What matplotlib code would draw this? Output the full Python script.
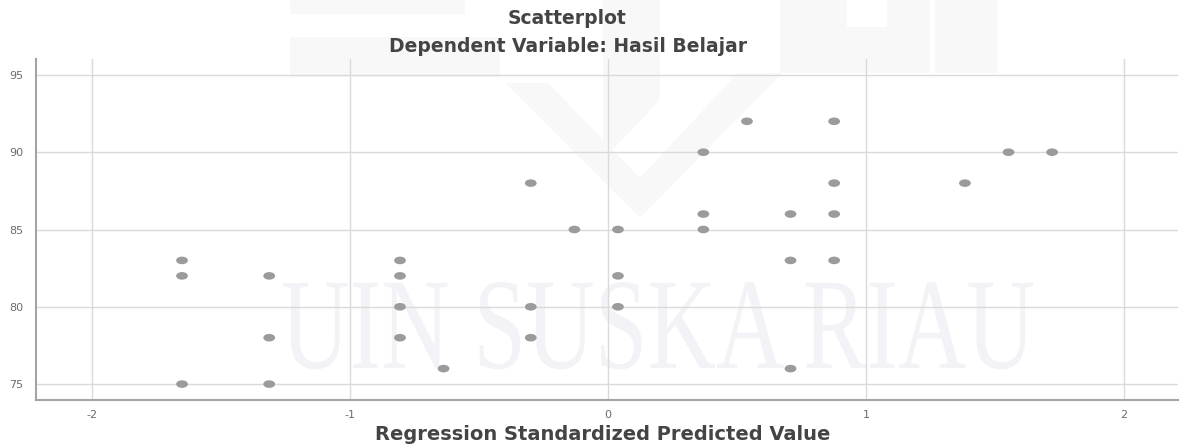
import matplotlib
matplotlib.use("Agg")
import matplotlib.pyplot as plt
from matplotlib.font_manager import FontProperties
from matplotlib.markers import MarkerStyle
from matplotlib.patches import PathPatch, Polygon
from matplotlib.path import Path
from matplotlib.textpath import TextPath
from matplotlib.transforms import Affine2D, IdentityTransform

plt.rcParams["axes.unicode_minus"] = False

# --- data ---
pred_std = [-1.651, -1.651, -1.651,
            -1.313, -1.313, -1.313,
            -0.806, -0.806, -0.806, -0.806,
            -0.637,
            -0.299, -0.299, -0.299,
            -0.130,
            0.039, 0.039, 0.039,
            0.370, 0.370, 0.370,
            0.539,
            0.708, 0.708, 0.708,
            0.877, 0.877, 0.877, 0.877,
            1.384, 1.553, 1.722]
hasil_belajar = [83, 82, 75,
                 82, 78, 75,
                 83, 82, 80, 78,
                 76,
                 88, 80, 78,
                 85,
                 85, 82, 80,
                 90, 86, 85,
                 92,
                 86, 83, 76,
                 92, 88, 86, 83,
                 88, 90, 90]
x_ticks = [-2, -1, 0, 1, 2]
y_ticks = [75, 80, 85, 90, 95]

W, H = 1187, 448
fig = plt.figure(figsize=(W / 100, H / 100), dpi=100)
ax = fig.add_axes([36 / W, 1 - 400 / H, 1142 / W, 341 / H])
ax.set_facecolor("none")


def px(points):
    # watermark shapes in pixel coords measured from the top-left
    return [(x, H - y) for x, y in points]


# --- very faint logo watermark (background decoration) ---
logo = "#f8f8f8"
shapes = [
    [(290, 0), (465, 0), (465, 14), (290, 14)],
    [(290, 37), (500, 37), (500, 77), (290, 77)],
    [(505, 83), (548, 83), (640, 178), (738, 73), (782, 73), (640, 218)],
    [(603, 0), (660, 0), (660, 100), (603, 160)],
    [(780, 0), (847, 0), (847, 27), (887, 27), (887, 0), (930, 0),
     (930, 73), (780, 73)],
    [(935, 0), (997, 0), (997, 73), (935, 73)],
]
for pts in shapes:
    fig.patches.append(Polygon(px(pts), closed=True, facecolor=logo,
                               edgecolor="none", transform=IdentityTransform(),
                               zorder=-2))

# --- faint text watermark, squeezed horizontally like the reference ---
tp = TextPath((0, 0), "UIN SUSKA RIAU", size=130,
              prop=FontProperties(family="Liberation Serif"))
tp = tp.transformed(Affine2D().scale(0.73, 1.0).translate(281, H - 368))
fig.patches.append(PathPatch(tp, facecolor="#f3f3f7", edgecolor="none",
                             transform=IdentityTransform(), zorder=-1))

# slightly wide dots, as in the reference
oval = Path.unit_circle().transformed(Affine2D().scale(1.55, 1.0))
ax.scatter(pred_std, hasil_belajar, marker=MarkerStyle(oval), s=72,
           color="#9b9b9b", edgecolors="none", zorder=3)

ax.set_xlim(-2.217, 2.21)
ax.set_ylim(73.97, 96.03)
ax.set_xticks(x_ticks)
ax.set_yticks(y_ticks)
ax.grid(True, color="#dadada", linewidth=1.0)
ax.set_axisbelow(True)
ax.tick_params(axis="both", length=0, labelsize=8, colors="#6b6b6b")
ax.tick_params(axis="x", pad=7)
ax.tick_params(axis="y", pad=9)
for side in ["top", "right"]:
    ax.spines[side].set_visible(False)
for side in ["left", "bottom"]:
    ax.spines[side].set_color("#a4a4a4")
    ax.spines[side].set_linewidth(1.5)

fig.text(567 / W, 1 - 19 / H, "Scatterplot", ha="center", va="center",
         fontsize=13.5, fontweight="bold", color="#444444")
fig.text(568 / W, 1 - 46 / H, "Dependent Variable: Hasil Belajar",
         ha="center", va="center", fontsize=13.5, fontweight="bold",
         color="#444444")
fig.text(603 / W, 1 - 434 / H, "Regression Standardized Predicted Value",
         ha="center", va="center", fontsize=14, fontweight="bold",
         color="#444444")

fig.savefig("out.png", dpi=100)
